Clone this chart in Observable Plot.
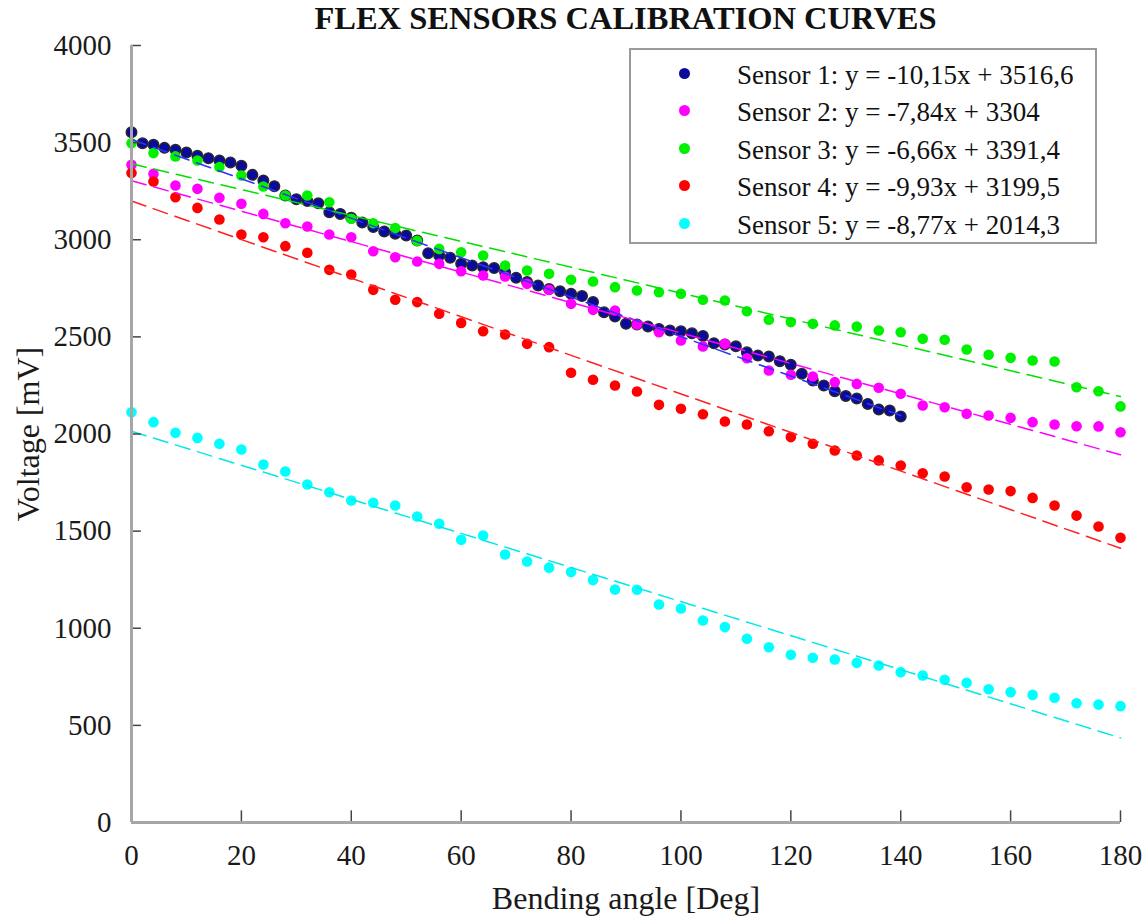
<!DOCTYPE html>
<html><head><meta charset="utf-8">
<script src="https://cdn.jsdelivr.net/npm/d3@7"></script>
<script src="https://cdn.jsdelivr.net/npm/@observablehq/plot@0.6"></script>
<style>
body{margin:0;background:#fff;}
#wrap{position:relative;width:1142px;height:917px;font-family:"Liberation Serif","Times New Roman",serif;color:#111;}
#chart svg, #chart svg text{font-family:"Liberation Serif","Times New Roman",serif !important;}
#title{position:absolute;left:131px;top:3px;width:989px;text-align:center;font-weight:bold;font-size:32.5px;line-height:30px;white-space:nowrap;}
#legend{position:absolute;left:629px;top:48px;width:468px;height:196px;box-sizing:border-box;border:2px solid #9a9a9a;background:#fff;}
.row{position:absolute;left:0;height:36px;width:100%;}
.dot{position:absolute;left:48px;top:12px;width:11px;height:11px;border-radius:50%;}
.lab{position:absolute;left:106px;top:1px;font-size:27px;line-height:36px;white-space:nowrap;}
</style></head>
<body><div id="wrap"><div id="chart"></div><div id="title"></div><div id="legend"></div></div>
<script>
const titleText = "FLEX SENSORS CALIBRATION CURVES";
const xLabel = "Bending angle [Deg]";
const yLabel = "Voltage [mV]";
const xTicks = [0,20,40,60,80,100,120,140,160,180];
const yTicks = [0,500,1000,1500,2000,2500,3000,3500,4000];

const sensorNames = ["Sensor 1","Sensor 2","Sensor 3","Sensor 4","Sensor 5"];
const sensorColors = ["#0a0a9c","#ff00ff","#00f000","#ff0000","#00ffff"];
const lineColors = ["#3030ff","#ff00ff","#00e000","#ff2020","#00e8e8"];
const slopes = [-10.15,-7.84,-6.66,-9.93,-8.77];
const intercepts = [3516.6,3304,3391.4,3199.5,2014.3];
const fitMaxAngle = [140,180,180,180,180];
const legendLabels = [
  "Sensor 1: y = -10,15x + 3516,6",
  "Sensor 2: y = -7,84x + 3304",
  "Sensor 3: y = -6,66x + 3391,4",
  "Sensor 4: y = -9,93x + 3199,5",
  "Sensor 5: y = -8,77x + 2014,3"
];

const angles1 = [0,2,4,6,8,10,12,14,16,18,20,22,24,26,28,30,32,34,36,38,40,42,44,46,48,50,52,54,56,58,60,62,64,66,68,70,72,74,76,78,80,82,84,86,88,90,92,94,96,98,100,102,104,106,108,110,112,114,116,118,120,122,124,126,128,130,132,134,136,138,140];
const sensor1 = [3554,3497,3489,3473,3463,3449,3432,3420,3408,3398,3381,3334,3305,3276,3228,3209,3200,3188,3142,3133,3113,3089,3065,3042,3031,3022,2996,2931,2919,2907,2876,2867,2859,2854,2833,2804,2782,2764,2746,2735,2722,2710,2679,2627,2605,2567,2564,2553,2541,2533,2529,2519,2505,2467,2461,2452,2421,2404,2399,2375,2356,2310,2275,2250,2220,2196,2183,2155,2126,2121,2090];

const angles = [0,4,8,12,16,20,24,28,32,36,40,44,48,52,56,60,64,68,72,76,80,84,88,92,96,100,104,108,112,116,120,124,128,132,136,140,144,148,152,156,160,164,168,172,176,180];
const sensor2 = [3386,3339,3279,3262,3216,3185,3133,3085,3068,3027,3013,2941,2910,2888,2876,2838,2816,2811,2773,2742,2670,2639,2636,2564,2524,2481,2451,2464,2390,2327,2305,2296,2267,2258,2238,2207,2147,2138,2104,2095,2083,2061,2049,2040,2039,2009];
const sensor3 = [3497,3446,3429,3408,3374,3331,3274,3228,3228,3193,3108,3085,3060,2994,2953,2936,2919,2867,2842,2825,2794,2785,2756,2739,2730,2722,2691,2687,2632,2588,2576,2567,2559,2553,2533,2524,2490,2485,2435,2408,2392,2378,2373,2241,2220,2142];
const sensor4 = [3343,3300,3219,3164,3104,3027,3013,2967,2933,2845,2821,2742,2691,2679,2619,2572,2529,2512,2464,2447,2315,2279,2250,2219,2150,2130,2102,2064,2049,2014,1984,1950,1915,1889,1864,1838,1798,1781,1726,1714,1706,1671,1632,1580,1524,1466];
const sensor5 = [2112,2061,2006,1980,1950,1920,1843,1807,1740,1700,1658,1646,1632,1575,1538,1455,1477,1380,1344,1312,1289,1248,1199,1198,1122,1102,1040,1006,946,902,863,848,839,822,808,774,757,735,719,686,671,657,642,614,607,599];

const series = [
  {x: angles1, y: sensor1},
  {x: angles, y: sensor2},
  {x: angles, y: sensor3},
  {x: angles, y: sensor4},
  {x: angles, y: sensor5}
];

const serif = "Liberation Serif, Times New Roman, serif";

const dotMarks = series.map((s, i) => {
  const rows = s.x.map((a, j) => ({angle: a, mv: s.y[j]}));
  return Plot.dot(rows, {
    x: "angle", y: "mv", r: 5.3,
    fill: sensorColors[i],
    stroke: i === 0 ? "#2a2a2a" : "none",
    strokeWidth: i === 0 ? 1.4 : 0
  });
});

const fitRows = [];
slopes.forEach((m, i) => {
  [0, fitMaxAngle[i]].forEach(a => fitRows.push({sensor: sensorNames[i], angle: a, mv: intercepts[i] + m * a, color: lineColors[i]}));
});

const chart = Plot.plot({
  width: 1142, height: 917,
  marginLeft: 131, marginRight: 22, marginTop: 45, marginBottom: 95,
  x: {domain: [0, 180]},
  y: {domain: [0, 4000]},
  color: {type: "identity"},
  style: {fontFamily: serif, fontSize: "29px", color: "#1a1a1a", background: "white"},
  marks: [
    ...dotMarks,
    Plot.line(fitRows, {x: "angle", y: "mv", z: "sensor", stroke: "color", strokeWidth: 1.5, strokeDasharray: "15,8"}),
    Plot.ruleY(yTicks, {y: d => d, x1: 0, x2: 1.8, stroke: "#444", strokeWidth: 1.5}),
    Plot.ruleX(xTicks, {x: d => d, y1: 0, y2: 60, stroke: "#444", strokeWidth: 1.5}),
    Plot.ruleX([0], {stroke: "#a6a6a6", strokeWidth: 3}),
    Plot.ruleY([0], {stroke: "#a6a6a6", strokeWidth: 3}),
    Plot.axisY({ticks: yTicks, tickSize: 0, tickPadding: 20, tickFormat: d => String(d), label: null, fontSize: 29, fontFamily: serif}),
    Plot.axisX({ticks: xTicks, tickSize: 0, tickPadding: 22, tickFormat: d => String(d), label: null, fontSize: 29, fontFamily: serif}),
    Plot.text([xLabel], {frameAnchor: "bottom", textAnchor: "middle", lineAnchor: "middle", dy: 76, fontSize: 32, fontFamily: serif, fill: "#1a1a1a"}),
    Plot.text([yLabel], {frameAnchor: "left", textAnchor: "middle", lineAnchor: "middle", dx: -103, rotate: -90, fontSize: 32, fontFamily: serif, fill: "#1a1a1a"})
  ]
});
document.getElementById("chart").appendChild(chart);
document.getElementById("title").textContent = titleText;

const legend = document.getElementById("legend");
const rowTops = [6, 43, 81, 118, 156];
legendLabels.forEach((t, i) => {
  const row = document.createElement("div");
  row.className = "row";
  row.style.top = rowTops[i] + "px";
  const dot = document.createElement("div");
  dot.className = "dot";
  dot.style.background = sensorColors[i];
  const lab = document.createElement("div");
  lab.className = "lab";
  lab.textContent = t;
  row.appendChild(dot); row.appendChild(lab);
  legend.appendChild(row);
});
</script>
</body></html>
